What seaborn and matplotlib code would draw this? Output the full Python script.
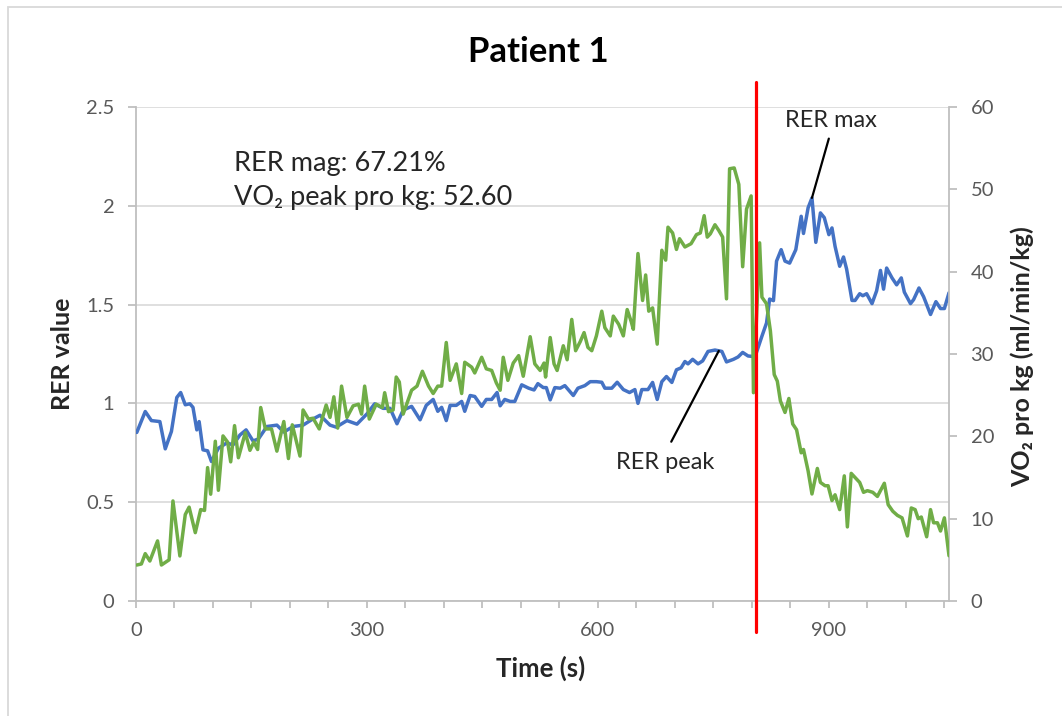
import matplotlib
matplotlib.use("Agg")
import matplotlib.pyplot as plt
from matplotlib.patches import Rectangle
import seaborn as sns
import pandas as pd

# ---------------- data ----------------
rer_time = [1, 12, 20, 31, 38, 46, 53, 58, 64, 70, 74, 79, 82, 87, 93, 98, 107, 118, 126, 135,
            143, 152, 159, 170, 183, 192, 204, 217, 228, 239, 252, 260, 274, 287, 300, 310, 321,
            330, 339, 347, 358, 369, 377, 386, 392, 397, 403, 408, 416, 423, 427, 434, 440, 449,
            455, 462, 469, 473, 479, 486, 492, 501, 510, 517, 522, 529, 533, 538, 544, 551, 557,
            568, 574, 583, 590, 598, 605, 609, 618, 625, 633, 641, 648, 652, 657, 665, 671, 677,
            683, 689, 696, 702, 708, 713, 717, 723, 730, 736, 743, 752, 761, 767, 776, 782, 788,
            795, 800, 805, 813, 819, 823, 828, 832, 838, 843, 849, 857, 864, 867, 873, 878, 883,
            889, 894, 900, 904, 908, 914, 919, 923, 930, 934, 940, 944, 949, 956, 962, 967, 971,
            975, 982, 988, 994, 998, 1006, 1010, 1017, 1023, 1026, 1032, 1039, 1045, 1050, 1056]
rer_value = [0.853, 0.959, 0.913, 0.908, 0.77, 0.858, 1.03, 1.055, 0.993, 0.998, 0.98, 0.866,
             0.908, 0.765, 0.76, 0.706, 0.773, 0.80, 0.79, 0.84, 0.866, 0.81, 0.82, 0.883, 0.89,
             0.855, 0.883, 0.89, 0.917, 0.94, 0.89, 0.88, 0.913, 0.895, 0.947, 0.998, 0.975,
             0.975, 0.897, 0.966, 0.985, 0.917, 0.99, 1.02, 0.96, 0.98, 0.913, 0.99, 0.99, 1.01,
             0.96, 1.04, 1.035, 0.985, 1.02, 1.02, 1.055, 0.988, 1.02, 1.01, 1.01, 1.094, 1.077,
             1.068, 1.10, 1.08, 1.08, 1.018, 1.08, 1.077, 1.09, 1.04, 1.077, 1.09, 1.11, 1.11,
             1.107, 1.077, 1.077, 1.107, 1.07, 1.055, 1.07, 1.0, 1.07, 1.07, 1.106, 1.02, 1.11,
             1.136, 1.106, 1.17, 1.18, 1.212, 1.20, 1.223, 1.20, 1.215, 1.263, 1.27, 1.263, 1.21,
             1.223, 1.235, 1.258, 1.24, 1.238, 1.247, 1.34, 1.407, 1.528, 1.52, 1.72, 1.778, 1.72,
             1.71, 1.778, 1.947, 1.86, 1.99, 2.04, 1.815, 1.964, 1.94, 1.854, 1.888, 1.795, 1.694,
             1.741, 1.68, 1.521, 1.521, 1.555, 1.545, 1.555, 1.505, 1.57, 1.673, 1.578, 1.685,
             1.635, 1.60, 1.635, 1.563, 1.505, 1.525, 1.584, 1.54, 1.51, 1.45, 1.515, 1.48, 1.48,
             1.56]

vo2_time = [1, 7, 12, 18, 28, 33, 43, 48, 57, 64, 69, 77, 84, 89, 93, 97, 103, 107, 113, 119,
            123, 128, 133, 142, 148, 153, 158, 162, 168, 176, 183, 192, 198, 203, 213, 217, 224,
            230, 238, 247, 252, 257, 262, 267, 274, 282, 289, 293, 297, 303, 312, 320, 323, 328,
            334, 338, 342, 347, 358, 365, 372, 380, 386, 392, 397, 403, 408, 416, 423, 427, 436,
            440, 449, 455, 462, 468, 473, 477, 483, 490, 497, 503, 512, 518, 525, 530, 532, 538,
            543, 547, 555, 560, 566, 571, 577, 582, 587, 592, 598, 605, 609, 616, 620, 627, 633,
            638, 643, 646, 652, 658, 662, 666, 671, 677, 683, 688, 691, 697, 702, 706, 713, 721,
            728, 733, 738, 742, 746, 752, 757, 762, 767, 771, 777, 783, 788, 793, 799, 802, 810,
            813, 819, 824, 829, 833, 837, 843, 848, 853, 858, 864, 867, 873, 878, 885, 889, 895,
            899, 904, 908, 914, 920, 924, 929, 935, 940, 945, 950, 957, 963, 972, 977, 983, 989,
            995, 1002, 1007, 1012, 1016, 1020, 1027, 1032, 1036, 1041, 1045, 1050, 1056]
vo2_value = [4.37, 4.5, 5.75, 4.86, 7.3, 4.37, 5.0, 12.15, 5.47, 10.5, 11.4, 8.3, 11.1, 11.0,
             16.2, 12.97, 19.4, 13.45, 20.05, 19.3, 16.9, 21.3, 17.4, 20.45, 18.3, 19.3, 18.4,
             23.5, 20.9, 20.9, 18.2, 21.8, 17.3, 21.4, 17.6, 23.2, 22.1, 22.2, 20.9, 23.8, 22.3,
             24.8, 21.0, 26.1, 22.3, 23.7, 23.9, 22.7, 26.1, 22.1, 23.9, 23.5, 25.3, 23.0, 23.2,
             27.2, 26.6, 22.7, 25.6, 26.1, 27.9, 26.1, 25.2, 26.1, 26.1, 31.4, 26.8, 28.8, 25.2,
             29.0, 28.4, 27.7, 29.6, 28.2, 28.0, 26.5, 25.6, 29.6, 26.8, 28.9, 29.8, 27.3, 32.1,
             28.8, 28.0, 28.9, 27.2, 32.0, 28.8, 28.0, 31.0, 29.3, 34.2, 30.4, 31.5, 32.6, 30.8,
             30.4, 32.2, 35.2, 33.2, 32.2, 34.6, 33.6, 32.2, 35.4, 34.0, 33.0, 42.2, 36.5, 39.6,
             35.2, 35.6, 31.2, 42.6, 41.4, 45.4, 44.7, 42.7, 44.0, 43.0, 43.4, 44.5, 44.7, 46.8,
             44.2, 44.6, 45.7, 45.0, 44.2, 36.7, 52.5, 52.6, 50.6, 40.6, 47.6, 49.2, 25.3, 43.5,
             36.9, 36.1, 32.8, 27.5, 26.7, 24.3, 22.9, 24.6, 21.5, 20.8, 18.0, 18.4, 15.8, 13.0,
             16.1, 14.4, 14.0, 14.0, 12.2, 12.9, 11.1, 15.2, 9.0, 15.5, 14.9, 14.4, 13.2, 13.4,
             13.2, 12.7, 14.3, 11.7, 10.9, 10.4, 10.1, 7.9, 11.3, 11.1, 10.0, 10.2, 7.8, 11.1,
             9.5, 9.5, 8.5, 10.1, 5.5]

x_ticks = list(range(0, 1051, 50))
x_label_every = 300
rer_ticks = [0, 0.5, 1, 1.5, 2, 2.5]
rer_tick_labels = ["0", "0.5", "1", "1.5", "2", "2.5"]
vo2_ticks = [0, 10, 20, 30, 40, 50, 60]
threshold_time = 805
rer_max_point = (878, 2.04)
rer_peak_point = (757, 1.266)
title = "Patient 1"
info_lines = ["RER mag: 67.21%", "VO\u2082 peak pro kg: 52.60"]

# ---------------- style ----------------
sns.set_style("white")
plt.rcParams["font.family"] = ["Lato", "DejaVu Sans"]

BLUE = "#4472C4"
GREEN = "#70AD47"
GRID = "#D9D9D9"
SPINE = "#BFBFBF"
TICKC = "#595959"

W, H = 1062, 716
fig = plt.figure(figsize=(W / 100, H / 100), dpi=100)
left, right, bottom, top = 136, 949, 601, 107
ax = fig.add_axes([left / W, 1 - bottom / H, (right - left) / W, (bottom - top) / H])
ax2 = ax.twinx()

# border
fig.patches.append(Rectangle((8 / W, -0.2), 1.2, 1.2 - 7 / H, transform=fig.transFigure,
                             fill=False, edgecolor=GRID, lw=1.3))

rer_df = pd.DataFrame({"time": rer_time, "rer": rer_value})
vo2_df = pd.DataFrame({"time": vo2_time, "vo2": vo2_value})

sns.lineplot(data=rer_df, x="time", y="rer", ax=ax, color=BLUE, lw=2.5, zorder=3)
sns.lineplot(data=vo2_df, x="time", y="vo2", ax=ax2, color=GREEN, lw=2.5, zorder=3)

ax.set_xlim(0, 1056)
ax.set_ylim(0, 2.5)
ax2.set_ylim(0, 60)
ax.set_xlabel("")
ax.set_ylabel("")
ax2.set_ylabel("")

ax.set_yticks(rer_ticks)
ax.set_yticklabels(rer_tick_labels)
ax2.set_yticks(vo2_ticks)
ax.set_xticks(x_ticks)
ax.set_xticklabels([str(t) if t % x_label_every == 0 else "" for t in x_ticks])

ax.yaxis.grid(True, color=GRID, lw=1.2)
ax.set_axisbelow(True)
for a in (ax, ax2):
    for s in a.spines.values():
        s.set_visible(False)
ax.spines["left"].set_visible(True)
ax.spines["bottom"].set_visible(True)
ax2.spines["right"].set_visible(True)
for s in (ax.spines["left"], ax.spines["bottom"], ax2.spines["right"]):
    s.set_color(SPINE)
    s.set_linewidth(1.3)

ax.tick_params(axis="y", left=True, length=5.5, width=1.3, color=SPINE, pad=10,
               labelsize=14.5, labelcolor=TICKC)
ax.tick_params(axis="x", bottom=True, length=5, width=1.3, color=SPINE, pad=10,
               labelsize=14.5, labelcolor=TICKC)
ax2.tick_params(axis="y", right=True, length=5.5, width=1.3, color=SPINE, pad=10,
                labelsize=14.5, labelcolor=TICKC)

# threshold line
ax2.axvline(threshold_time, ymin=-0.063, ymax=1.051, color="red", lw=2.3,
            clip_on=False, zorder=5)

# annotations
ax.annotate("RER max", xy=rer_max_point, xytext=(902.6, 2.43), ha="center", va="center",
            fontsize=17, color="#262626",
            arrowprops=dict(arrowstyle="-", color="black", lw=1.6, relpos=(0.5, 0),
                            shrinkA=3, shrinkB=0), zorder=6)
ax.annotate("RER peak", xy=rer_peak_point, xytext=(688, 0.699), ha="center", va="center",
            fontsize=17, color="#262626",
            arrowprops=dict(arrowstyle="-", color="black", lw=1.6, relpos=(0.5, 1),
                            shrinkA=6, shrinkB=0), zorder=6)

fig.text(234 / W, 1 - 163 / H, info_lines[0], ha="left", va="center", fontsize=19.5,
         color="#262626")
fig.text(234 / W, 1 - 198 / H, info_lines[1], ha="left", va="center", fontsize=19.5,
         color="#262626")

fig.text(538 / W, 1 - 52 / H, title, ha="center", va="center", fontsize=25,
         fontweight="bold", color="black")
fig.text(541 / W, 1 - 668 / H, "Time (s)", ha="center", va="center", fontsize=18.5,
         fontweight="bold")
fig.text(62 / W, 1 - 354 / H, "RER value", ha="center", va="center", fontsize=18,
         fontweight="bold", rotation=90)
fig.text(1022 / W, 1 - 357 / H, "VO\u2082 pro kg (ml/min/kg)", ha="center", va="center",
         fontsize=18, fontweight="bold", rotation=90)

fig.savefig("out.png", dpi=100)
